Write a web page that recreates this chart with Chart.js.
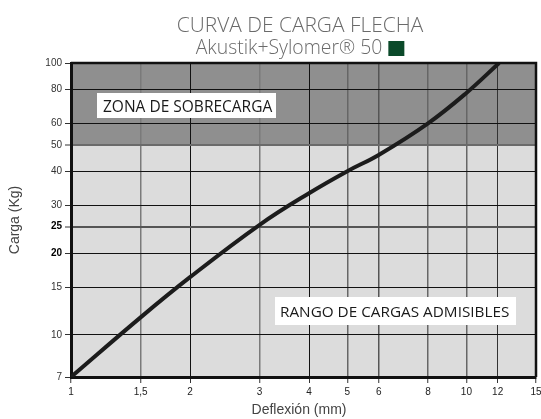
<!DOCTYPE html>
<html>
<head>
<meta charset="utf-8">
<script src="https://cdn.jsdelivr.net/npm/chart.js@4.4.0/dist/chart.umd.min.js"></script>
<style>
  html, body { margin: 0; padding: 0; background: #fff; }
</style>
</head>
<body>
<canvas id="myChart" width="541" height="419"></canvas>
<script>
// datos
const deflexion = [1, 1.5, 2, 3, 4, 5, 6, 8, 10, 12.1]
const carga = [7, 11.6, 16.3, 25.4, 33.2, 40, 45.9, 60, 77.6, 100]
const xTicks = [1, 1.5, 2, 3, 4, 5, 6, 8, 10, 12, 15]
const yTicks = [7, 10, 15, 20, 25, 30, 40, 50, 60, 80, 100]
const limiteSobrecarga = 50
const titulo = 'CURVA DE CARGA FLECHA'
const subtitulo = 'Akustik+Sylomer® 50'
const etiquetaArriba = 'ZONA DE SOBRECARGA'
const etiquetaAbajo = 'RANGO DE CARGAS ADMISIBLES'

const xGridColor = { 1.5: '#7a7a7a', 2: '#111', 3: '#7a7a7a', 4: '#111', 5: '#666', 6: '#555', 8: '#666', 10: '#666', 12: '#333', 15: '#111' }

// texto ajustado a un ancho
function fitFont(ctx, text, width, family, weight) {
  ctx.font = weight + ' 10px ' + family
  const size = 10 * width / ctx.measureText(text).width
  return weight + ' ' + size.toFixed(1) + 'px ' + family
}

const fondoYTextos = {
  id: 'fondoYTextos',
  beforeDraw(chart) {
    const { ctx, chartArea } = chart
    const y50 = chart.scales.y.getPixelForValue(limiteSobrecarga)
    ctx.save()
    ctx.fillStyle = '#8f8f8f'
    ctx.fillRect(chartArea.left, chartArea.top, chartArea.right - chartArea.left, y50 - chartArea.top)
    ctx.fillStyle = '#dcdcdc'
    ctx.fillRect(chartArea.left, y50, chartArea.right - chartArea.left, chartArea.bottom - y50)
    ctx.restore()
  },
  afterDatasetsDraw(chart) {
    const { ctx, chartArea } = chart
    ctx.save()
    // borde de arriba y derecha
    ctx.strokeStyle = '#111'
    ctx.lineWidth = 2.5
    ctx.beginPath()
    ctx.moveTo(chartArea.left, chartArea.top)
    ctx.lineTo(chartArea.right, chartArea.top)
    ctx.lineTo(chartArea.right, chartArea.bottom)
    ctx.stroke()

    // cajas de texto
    ctx.fillStyle = '#fff'
    ctx.fillRect(97, 93, 179, 25)
    ctx.fillRect(275, 297, 241, 28)
    ctx.fillStyle = '#1a1a1a'
    ctx.textBaseline = 'alphabetic'
    ctx.textAlign = 'left'
    ctx.font = fitFont(ctx, etiquetaArriba, 169, '"Open Sans"', 'normal')
    ctx.fillText(etiquetaArriba, 103, 112)
    ctx.font = fitFont(ctx, etiquetaAbajo, 229, '"Open Sans"', 'normal')
    ctx.fillText(etiquetaAbajo, 280, 317)
    ctx.restore()
  },
  afterDraw(chart) {
    const { ctx, chartArea } = chart
    const cx = 300
    ctx.save()
    ctx.fillStyle = '#6a6a6a'
    ctx.textAlign = 'center'
    ctx.textBaseline = 'alphabetic'
    ctx.font = fitFont(ctx, titulo, 247, '"Open Sans"', '300')
    ctx.fillText(titulo, cx, 32)

    ctx.font = fitFont(ctx, subtitulo, 187, '"Open Sans"', '300')
    const w = ctx.measureText(subtitulo).width
    const total = w + 6 + 16
    ctx.textAlign = 'left'
    ctx.fillText(subtitulo, cx - total / 2, 54)
    ctx.fillStyle = '#0b4a2a'
    ctx.fillRect(cx - total / 2 + w + 6, 41, 16, 15)

    // titulos de ejes
    ctx.fillStyle = '#444'
    ctx.font = '14px "Liberation Sans", Arial, sans-serif'
    ctx.textAlign = 'center'
    ctx.fillText('Deflexión (mm)', 299, 414)
    ctx.translate(19, (chartArea.top + chartArea.bottom) / 2)
    ctx.rotate(-Math.PI / 2)
    ctx.fillText('Carga (Kg)', 0, 0)
    ctx.restore()
  }
}

const ctx = document.getElementById('myChart')

new Chart(ctx, {
  type: 'line',
  plugins: [fondoYTextos],
  data: {
    datasets: [
      {
        label: 'Akustik+Sylomer 50',
        data: deflexion.map((d, i) => ({ x: d, y: carga[i] })),
        borderColor: '#1c1c1c',
        borderWidth: 4,
        pointRadius: 0,
        tension: 0.4,
        fill: false,
      },
    ],
  },
  options: {
    responsive: false,
    animation: false,
    layout: { padding: { top: 63, right: 5, left: 0, bottom: 0 } },
    plugins: { legend: { display: false }, tooltip: { enabled: false } },
    scales: {
      x: {
        type: 'logarithmic',
        min: 1,
        max: 15,
        afterBuildTicks(s) { s.ticks = xTicks.map(v => ({ value: v })) },
        afterFit(s) { s.height = 42; s.paddingLeft = 0; s.paddingRight = 0 },
        ticks: {
          autoSkip: false,
          maxRotation: 0,
          padding: 3,
          color: '#222',
          font: { family: '"Liberation Sans", Arial, sans-serif', size: 10 },
          callback: v => String(v).replace('.', ','),
        },
        grid: {
          color: c => xGridColor[c.tick.value] || '#111',
          lineWidth: c => (c.tick.value === 2 || c.tick.value === 4 || c.tick.value === 12) ? 1 : 1.5,
          tickLength: 6,
          tickColor: '#333',
          tickWidth: 1,
        },
        border: { color: '#111', width: 3 },
      },
      y: {
        type: 'logarithmic',
        min: 7,
        max: 100,
        afterBuildTicks(s) { s.ticks = yTicks.map(v => ({ value: v })) },
        afterFit(s) { s.width = 71; s.paddingTop = 0; s.paddingBottom = 0 },
        ticks: {
          autoSkip: false,
          padding: 3,
          color: c => (c.tick.value === 20 || c.tick.value === 25) ? '#000' : '#333',
          font: c => ({ family: '"Liberation Sans", Arial, sans-serif', size: 10, weight: (c.tick.value === 20 || c.tick.value === 25) ? 'bold' : 'normal' }),
          callback: v => String(v),
        },
        grid: {
          color: c => c.tick.value === 50 ? '#6a6a6a' : (c.tick.value === 25 ? '#555' : '#111'),
          lineWidth: c => (c.tick.value === 50 || c.tick.value === 25) ? 2 : 1,
          tickLength: 6,
          tickColor: '#333',
          tickWidth: 1,
        },
        border: { color: '#111', width: 3 },
      },
    },
  },
})
</script>
</body>
</html>
